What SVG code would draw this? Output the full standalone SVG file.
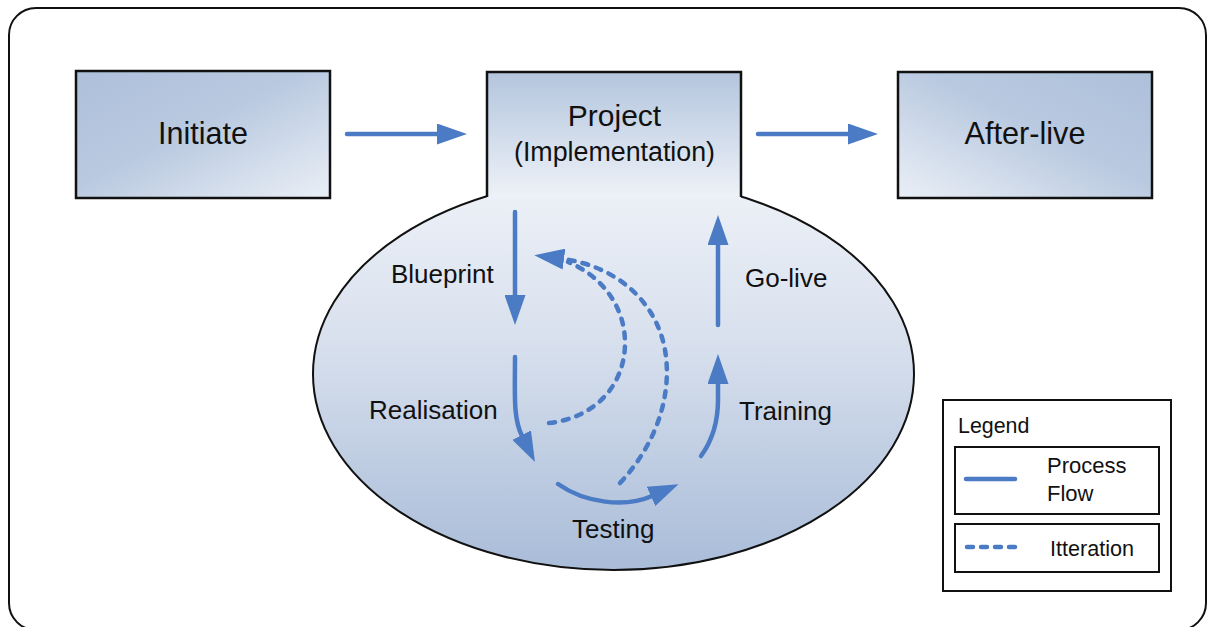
<svg xmlns="http://www.w3.org/2000/svg" width="1207" height="627" viewBox="0 0 1207 627">
<style>
.lbl{font-family:"Liberation Sans",Arial,sans-serif;fill:#111;}
.box{stroke:#111;stroke-width:2.5;}
.flow{fill:none;stroke:#4a7bc4;stroke-width:4.5;stroke-linecap:round;}
.iter{fill:none;stroke:#4a7bc4;stroke-width:4.5;stroke-linecap:round;stroke-dasharray:6 8;}
</style>
<defs>
<linearGradient id="gInit" x1="0" y1="0" x2="1" y2="1">
<stop offset="0" stop-color="#adc0da"/><stop offset="0.45" stop-color="#b9c9e0"/><stop offset="1" stop-color="#eaeff6"/>
</linearGradient>
<linearGradient id="gAfter" x1="1" y1="0" x2="0" y2="1">
<stop offset="0" stop-color="#adc0da"/><stop offset="0.45" stop-color="#b9c9e0"/><stop offset="1" stop-color="#eaeff6"/>
</linearGradient>
<linearGradient id="gProj" x1="0" y1="0" x2="0" y2="1">
<stop offset="0" stop-color="#b3c5dd"/><stop offset="1" stop-color="#eef2f8"/>
</linearGradient>
<linearGradient id="gEll" x1="0" y1="0" x2="0" y2="1">
<stop offset="0" stop-color="#eef2f8"/><stop offset="0.4" stop-color="#d9e1ee"/><stop offset="1" stop-color="#a9bcd8"/>
</linearGradient>
<marker id="ah" viewBox="0 0 30 21" markerWidth="30" markerHeight="21" refX="1" refY="10.5" orient="auto" markerUnits="userSpaceOnUse">
<path d="M0,0 L30,10.5 L0,21 z" fill="#4a7bc4"/>
</marker>
</defs>
<rect x="9" y="8" width="1197" height="622" rx="27" fill="#fff" stroke="#111" stroke-width="2"/>
<g id="initiate">
<rect class="box" x="76" y="71" width="254" height="127" fill="url(#gInit)"/>
<text class="lbl" x="203" y="144" font-size="30.5" text-anchor="middle">Initiate</text>
</g>
<g id="project">
<ellipse cx="613.5" cy="374" rx="300.5" ry="196" fill="url(#gEll)" stroke="#111" stroke-width="2"/>
<rect x="487" y="72" width="254" height="126" fill="url(#gProj)"/>
<path class="box" d="M487,197 L487,72 L741,72 L741,197" fill="none"/>
<text class="lbl" x="614.5" y="126" font-size="30" text-anchor="middle">Project</text>
<text class="lbl" x="614.5" y="161" font-size="26.8" text-anchor="middle">(Implementation)</text>
</g>
<g id="afterlive">
<rect class="box" x="898" y="72" width="254" height="126" fill="url(#gAfter)"/>
<text class="lbl" x="1025" y="144" font-size="30.7" text-anchor="middle">After-live</text>
</g>
<g id="labels">
<text class="lbl" x="391" y="283" font-size="26">Blueprint</text>
<text class="lbl" x="369" y="419" font-size="26">Realisation</text>
<text class="lbl" x="572" y="538" font-size="26">Testing</text>
<text class="lbl" x="739" y="420" font-size="26">Training</text>
<text class="lbl" x="745" y="287" font-size="26">Go-live</text>
</g>
<g id="connectors">
<path class="flow" d="M347,134 L438,134" marker-end="url(#ah)"/>
<path class="flow" d="M758,134 L849,134" marker-end="url(#ah)"/>
<path class="flow" d="M515,212 L515,296" marker-end="url(#ah)"/>
<path class="flow" d="M515,357 C515,395 513,418 522,436" marker-end="url(#ah)"/>
<path class="flow" d="M558,484 C585,503 625,508 652,496" marker-end="url(#ah)"/>
<path class="flow" d="M701,456 C714,438 718,420 718,400 L718,383" marker-end="url(#ah)"/>
<path class="flow" d="M718,325 L718,244" marker-end="url(#ah)"/>
<path class="iter" d="M549,423 C595,418 625,385 625,343 C625,305 600,275 568,262"/>
<path class="iter" d="M620,483 C660,440 672,390 665,350 C656,300 615,266 563,259" marker-end="url(#ah)"/>
</g>
<g id="legend">
<rect x="943" y="400" width="228" height="191" fill="#fff" stroke="#111" stroke-width="2"/>
<text class="lbl" x="958" y="433" font-size="21.4">Legend</text>
<rect x="955" y="447" width="204" height="67" fill="#fff" stroke="#111" stroke-width="2"/>
<line x1="966" y1="479" x2="1015" y2="479" class="flow"/>
<text class="lbl" x="1047" y="473" font-size="22">Process</text>
<text class="lbl" x="1047" y="501" font-size="22">Flow</text>
<rect x="955" y="524" width="204" height="48" fill="#fff" stroke="#111" stroke-width="2"/>
<line x1="967" y1="547" x2="1016" y2="547" class="iter" stroke-dasharray="7 6"/>
<text class="lbl" x="1050" y="556" font-size="21.6">Itteration</text>
</g>
</svg>
